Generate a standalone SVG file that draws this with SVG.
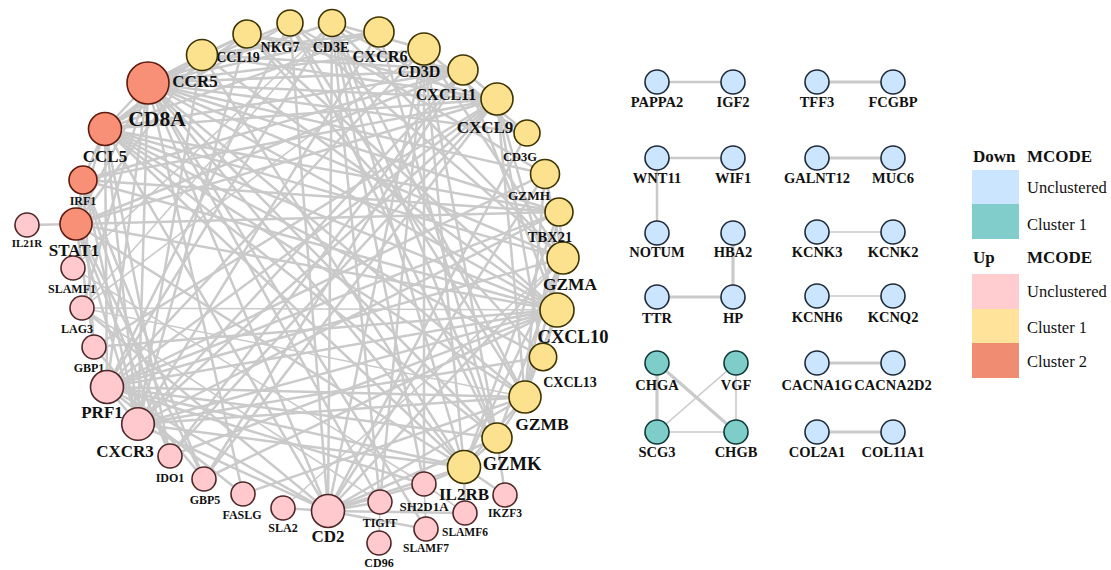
<svg xmlns="http://www.w3.org/2000/svg" width="1111" height="570" viewBox="0 0 1111 570">
<style>
text{font-family:"Liberation Serif","Times New Roman",serif;font-weight:bold;fill:#111;text-anchor:middle}
.e line{stroke:#CACACA;stroke-width:2.5;stroke-linecap:round}
.e line.t{stroke-width:1.6}
.e line.w{stroke-width:3.2}
.r{fill:#F88F77;stroke:#5E1B0E;stroke-width:1.6}
.y{fill:#FCE18F;stroke:#3D3300;stroke-width:1.6}
.p{fill:#FFC9CD;stroke:#4E2626;stroke-width:1.6}
.b{fill:#CCE5FF;stroke:#1E2A3A;stroke-width:1.6}
.c{fill:#7FCDC9;stroke:#0D3836;stroke-width:1.6}
.s{font-size:12px}
.m{font-size:14px}
.l{font-size:17px}
.q{font-size:14.5px}
.lg{font-weight:normal;text-anchor:start;font-size:16.5px}
.lh{text-anchor:start;font-size:17px}
</style>
<rect width="1111" height="570" fill="#fff"/>
<g id="connectors" class="e">
<line x1="148" y1="83" x2="202" y2="55"/><line x1="148" y1="83" x2="247" y2="34"/><line x1="148" y1="83" x2="290" y2="23"/><line x1="148" y1="83" x2="332" y2="23"/><line x1="148" y1="83" x2="379" y2="32"/><line x1="148" y1="83" x2="424" y2="49"/><line x1="148" y1="83" x2="497" y2="99"/><line x1="148" y1="83" x2="527" y2="133"/><line x1="148" y1="83" x2="545" y2="174"/><line x1="148" y1="83" x2="559" y2="212"/><line x1="148" y1="83" x2="563" y2="258"/><line x1="148" y1="83" x2="557" y2="310"/><line x1="148" y1="83" x2="525" y2="397"/><line x1="148" y1="83" x2="497" y2="438"/><line x1="148" y1="83" x2="464" y2="467"/><line x1="148" y1="83" x2="328" y2="511"/><line x1="148" y1="83" x2="107" y2="387"/><line x1="148" y1="83" x2="138" y2="424"/><line x1="148" y1="83" x2="76" y2="224"/><line x1="148" y1="83" x2="105" y2="129"/><line x1="148" y1="83" x2="82" y2="308"/><line x1="148" y1="83" x2="380" y2="502"/><line x1="148" y1="83" x2="426" y2="529"/><line x1="148" y1="83" x2="243" y2="494"/><line x1="148" y1="83" x2="463" y2="70"/>
<line x1="107" y1="387" x2="563" y2="258"/><line x1="107" y1="387" x2="525" y2="397"/><line x1="107" y1="387" x2="497" y2="438"/><line x1="107" y1="387" x2="545" y2="174"/><line x1="107" y1="387" x2="328" y2="511"/><line x1="107" y1="387" x2="290" y2="23"/><line x1="107" y1="387" x2="243" y2="494"/><line x1="107" y1="387" x2="332" y2="23"/><line x1="107" y1="387" x2="424" y2="49"/><line x1="107" y1="387" x2="464" y2="467"/><line x1="107" y1="387" x2="559" y2="212"/><line x1="107" y1="387" x2="105" y2="129"/><line x1="107" y1="387" x2="557" y2="310"/><line x1="107" y1="387" x2="497" y2="99"/><line x1="107" y1="387" x2="424" y2="484"/><line x1="107" y1="387" x2="138" y2="424"/>
<line x1="138" y1="424" x2="497" y2="99"/><line x1="138" y1="424" x2="557" y2="310"/><line x1="138" y1="424" x2="463" y2="70"/><line x1="138" y1="424" x2="543" y2="357"/><line x1="138" y1="424" x2="202" y2="55"/><line x1="138" y1="424" x2="105" y2="129"/><line x1="138" y1="424" x2="76" y2="224"/><line x1="138" y1="424" x2="328" y2="511"/><line x1="138" y1="424" x2="464" y2="467"/><line x1="138" y1="424" x2="559" y2="212"/><line x1="138" y1="424" x2="247" y2="34"/><line x1="138" y1="424" x2="379" y2="32"/><line x1="138" y1="424" x2="525" y2="397"/><line x1="138" y1="424" x2="83" y2="180"/>
<line x1="328" y1="511" x2="332" y2="23"/><line x1="328" y1="511" x2="424" y2="49"/><line x1="328" y1="511" x2="527" y2="133"/><line x1="328" y1="511" x2="563" y2="258"/><line x1="328" y1="511" x2="525" y2="397"/><line x1="328" y1="511" x2="497" y2="438"/><line x1="328" y1="511" x2="464" y2="467"/><line x1="328" y1="511" x2="424" y2="484"/><line x1="328" y1="511" x2="465" y2="513"/><line x1="328" y1="511" x2="426" y2="529"/><line x1="328" y1="511" x2="105" y2="129"/><line x1="328" y1="511" x2="290" y2="23"/><line x1="328" y1="511" x2="82" y2="308"/><line x1="328" y1="511" x2="380" y2="502"/><line x1="328" y1="511" x2="283" y2="508"/>
<line x1="105" y1="129" x2="202" y2="55"/><line x1="105" y1="129" x2="497" y2="99"/><line x1="105" y1="129" x2="557" y2="310"/><line x1="105" y1="129" x2="463" y2="70"/><line x1="105" y1="129" x2="247" y2="34"/><line x1="105" y1="129" x2="379" y2="32"/><line x1="105" y1="129" x2="563" y2="258"/><line x1="105" y1="129" x2="525" y2="397"/><line x1="105" y1="129" x2="497" y2="438"/><line x1="105" y1="129" x2="290" y2="23"/><line x1="105" y1="129" x2="76" y2="224"/><line x1="105" y1="129" x2="464" y2="467"/><line x1="105" y1="129" x2="170" y2="456"/><line x1="105" y1="129" x2="543" y2="357"/><line x1="105" y1="129" x2="83" y2="180"/>
<line x1="76" y1="224" x2="83" y2="180"/><line x1="76" y1="224" x2="27" y2="225"/><line x1="76" y1="224" x2="497" y2="99"/><line x1="76" y1="224" x2="557" y2="310"/><line x1="76" y1="224" x2="463" y2="70"/><line x1="76" y1="224" x2="170" y2="456"/><line x1="76" y1="224" x2="94" y2="347"/><line x1="76" y1="224" x2="204" y2="479"/><line x1="76" y1="224" x2="464" y2="467"/><line x1="76" y1="224" x2="559" y2="212"/><line x1="76" y1="224" x2="202" y2="55"/>
<line x1="563" y1="258" x2="525" y2="397"/><line x1="563" y1="258" x2="497" y2="438"/><line x1="563" y1="258" x2="545" y2="174"/><line x1="563" y1="258" x2="290" y2="23"/><line x1="563" y1="258" x2="464" y2="467"/><line x1="563" y1="258" x2="332" y2="23"/><line x1="563" y1="258" x2="424" y2="49"/><line x1="563" y1="258" x2="559" y2="212"/><line class="t" x1="563" y1="258" x2="283" y2="508"/>
<line x1="525" y1="397" x2="497" y2="438"/><line x1="525" y1="397" x2="545" y2="174"/><line x1="525" y1="397" x2="290" y2="23"/><line x1="525" y1="397" x2="464" y2="467"/><line x1="525" y1="397" x2="243" y2="494"/><line x1="525" y1="397" x2="332" y2="23"/><line x1="525" y1="397" x2="559" y2="212"/><line class="t" x1="525" y1="397" x2="82" y2="308"/><line x1="525" y1="397" x2="557" y2="310"/>
<line x1="497" y1="438" x2="505" y2="495"/><line x1="497" y1="438" x2="424" y2="49"/><line x1="497" y1="438" x2="332" y2="23"/><line x1="497" y1="438" x2="290" y2="23"/><line x1="497" y1="438" x2="379" y2="32"/><line x1="497" y1="438" x2="464" y2="467"/>
<line x1="557" y1="310" x2="497" y2="99"/><line x1="557" y1="310" x2="463" y2="70"/><line x1="557" y1="310" x2="170" y2="456"/><line x1="557" y1="310" x2="94" y2="347"/><line x1="557" y1="310" x2="204" y2="479"/><line x1="557" y1="310" x2="543" y2="357"/><line x1="557" y1="310" x2="247" y2="34"/><line x1="557" y1="310" x2="202" y2="55"/><line x1="557" y1="310" x2="83" y2="180"/><line class="t" x1="557" y1="310" x2="82" y2="308"/>
<line x1="497" y1="99" x2="463" y2="70"/><line x1="497" y1="99" x2="170" y2="456"/><line x1="497" y1="99" x2="94" y2="347"/><line x1="497" y1="99" x2="204" y2="479"/><line x1="497" y1="99" x2="247" y2="34"/><line x1="497" y1="99" x2="202" y2="55"/><line x1="497" y1="99" x2="83" y2="180"/><line x1="497" y1="99" x2="543" y2="357"/><line x1="497" y1="99" x2="525" y2="397"/>
<line x1="463" y1="70" x2="170" y2="456"/><line x1="463" y1="70" x2="202" y2="55"/><line x1="463" y1="70" x2="247" y2="34"/><line x1="463" y1="70" x2="83" y2="180"/><line x1="463" y1="70" x2="204" y2="479"/>
<line x1="424" y1="49" x2="332" y2="23"/><line x1="424" y1="49" x2="527" y2="133"/><line x1="424" y1="49" x2="464" y2="467"/><line class="t" x1="424" y1="49" x2="82" y2="308"/><line x1="424" y1="49" x2="380" y2="502"/><line x1="424" y1="49" x2="424" y2="484"/>
<line x1="332" y1="23" x2="527" y2="133"/><line x1="332" y1="23" x2="464" y2="467"/><line x1="332" y1="23" x2="424" y2="484"/><line x1="332" y1="23" x2="380" y2="502"/><line class="t" x1="332" y1="23" x2="82" y2="308"/><line class="t" x1="332" y1="23" x2="73" y2="268"/>
<line x1="202" y1="55" x2="247" y2="34"/><line x1="202" y1="55" x2="379" y2="32"/><line x1="202" y1="55" x2="464" y2="467"/><line x1="247" y1="34" x2="543" y2="357"/><line x1="290" y1="23" x2="545" y2="174"/>
<line x1="464" y1="467" x2="505" y2="495"/><line x1="464" y1="467" x2="465" y2="513"/><line x1="464" y1="467" x2="559" y2="212"/><line x1="464" y1="467" x2="424" y2="484"/><line x1="559" y1="212" x2="83" y2="180"/><line x1="559" y1="212" x2="105" y2="129"/><line x1="545" y1="174" x2="328" y2="511"/>
<line x1="83" y1="180" x2="170" y2="456"/><line x1="83" y1="180" x2="94" y2="347"/><line x1="83" y1="180" x2="204" y2="479"/><line x1="94" y1="347" x2="204" y2="479"/>
<line class="t" x1="380" y1="502" x2="379" y2="543"/><line class="t" x1="424" y1="484" x2="426" y2="529"/><line class="t" x1="424" y1="484" x2="465" y2="513"/><line class="t" x1="73" y1="268" x2="424" y2="484"/><line class="t" x1="82" y1="308" x2="380" y2="502"/>
<line x1="657" y1="82" x2="733" y2="82"/><line class="w" x1="817" y1="82" x2="893" y2="82"/><line x1="657" y1="158" x2="733" y2="158"/><line x1="657" y1="158" x2="657" y2="233"/><line class="w" x1="817" y1="158" x2="893" y2="158"/><line class="w" x1="733" y1="233" x2="733" y2="297"/><line class="t" x1="817" y1="232" x2="893" y2="232"/><line class="w" x1="657" y1="297" x2="733" y2="297"/><line class="t" x1="817" y1="296" x2="893" y2="296"/>
<line class="w" x1="657" y1="363" x2="657" y2="432"/><line class="w" x1="657" y1="363" x2="736" y2="432"/><line class="t" x1="736" y1="363" x2="657" y2="432"/><line class="t" x1="736" y1="363" x2="736" y2="432"/><line class="t" x1="657" y1="432" x2="736" y2="432"/><line class="w" x1="817" y1="363" x2="893" y2="363"/><line class="w" x1="817" y1="432" x2="893" y2="432"/>
</g>
<g id="n-CD8A"><circle class="r" cx="148" cy="83" r="21"/><text x="157" y="126" style="font-size:21.5px">CD8A</text></g>
<g id="n-CCL5"><circle class="r" cx="105" cy="129" r="16.5"/><text class="l" x="105" y="162">CCL5</text></g>
<g id="n-IRF1"><circle class="r" cx="83" cy="180" r="14"/><text class="s" x="83" y="205">IRF1</text></g>
<g id="n-STAT1"><circle class="r" cx="76" cy="224" r="16"/><text class="l" x="74" y="256">STAT1</text></g>
<g id="n-IL21R"><circle class="p" cx="27" cy="225" r="12"/><text class="s" x="27" y="247" style="font-size:11px">IL21R</text></g>
<g id="n-SLAMF1"><circle class="p" cx="73" cy="268" r="12"/><text class="s" x="72" y="293">SLAMF1</text></g>
<g id="n-LAG3"><circle class="p" cx="82" cy="308" r="12"/><text class="s" x="77" y="333">LAG3</text></g>
<g id="n-GBP1"><circle class="p" cx="94" cy="347" r="12"/><text class="s" x="89" y="372">GBP1</text></g>
<g id="n-PRF1"><circle class="p" cx="107" cy="387" r="16.5"/><text class="l" x="102" y="418">PRF1</text></g>
<g id="n-CXCR3"><circle class="p" cx="138" cy="424" r="16.3"/><text class="l" x="125" y="457">CXCR3</text></g>
<g id="n-IDO1"><circle class="p" cx="170" cy="456" r="12"/><text class="s" x="170" y="482">IDO1</text></g>
<g id="n-GBP5"><circle class="p" cx="204" cy="479" r="12"/><text class="s" x="205" y="504">GBP5</text></g>
<g id="n-FASLG"><circle class="p" cx="243" cy="494" r="12"/><text class="s" x="242" y="519">FASLG</text></g>
<g id="n-SLA2"><circle class="p" cx="283" cy="508" r="12"/><text class="s" x="283" y="532">SLA2</text></g>
<g id="n-CD2"><circle class="p" cx="328" cy="511" r="16.5"/><text class="l" x="328" y="542">CD2</text></g>
<g id="n-TIGIT"><circle class="p" cx="380" cy="502" r="12"/><text class="s" x="380" y="527">TIGIT</text></g>
<g id="n-CD96"><circle class="p" cx="379" cy="543" r="12"/><text class="s" x="379" y="567">CD96</text></g>
<g id="n-SH2D1A"><circle class="p" cx="424" cy="484" r="12"/><text class="s" x="424" y="511" style="font-size:13px">SH2D1A</text></g>
<g id="n-SLAMF7"><circle class="p" cx="426" cy="529" r="12"/><text class="s" x="426" y="552" style="font-size:11.5px">SLAMF7</text></g>
<g id="n-SLAMF6"><circle class="p" cx="465" cy="513" r="12"/><text class="s" x="465" y="536" style="font-size:11.5px">SLAMF6</text></g>
<g id="n-IKZF3"><circle class="p" cx="505" cy="495" r="12"/><text class="s" x="505" y="517" style="font-size:11.5px">IKZF3</text></g>
<g id="n-IL2RB"><circle class="y" cx="464" cy="467" r="16.5"/><text class="l" x="464" y="500">IL2RB</text></g>
<g id="n-GZMK"><circle class="y" cx="497" cy="438" r="15"/><text x="512" y="470" style="font-size:18.5px">GZMK</text></g>
<g id="n-GZMB"><circle class="y" cx="525" cy="397" r="16"/><text x="542" y="430" style="font-size:17.5px">GZMB</text></g>
<g id="n-CXCL13"><circle class="y" cx="543" cy="357" r="13.7"/><text class="m" x="570" y="387">CXCL13</text></g>
<g id="n-CXCL10"><circle class="y" cx="557" cy="310" r="17"/><text x="573" y="343" style="font-size:18.5px">CXCL10</text></g>
<g id="n-GZMA"><circle class="y" cx="563" cy="258" r="16"/><text class="l" x="570" y="290" style="font-size:17.4px">GZMA</text></g>
<g id="n-TBX21"><circle class="y" cx="559" cy="212" r="14"/><text x="550" y="242" style="font-size:14.5px">TBX21</text></g>
<g id="n-GZMH"><circle class="y" cx="545" cy="174" r="14.5"/><text x="529" y="200" style="font-size:13.3px">GZMH</text></g>
<g id="n-CD3G"><circle class="y" cx="527" cy="133" r="13"/><text x="520" y="161" style="font-size:12.5px">CD3G</text></g>
<g id="n-CXCL9"><circle class="y" cx="497" cy="99" r="16"/><text class="l" x="485" y="133">CXCL9</text></g>
<g id="n-CXCL11"><circle class="y" cx="463" cy="70" r="15"/><text x="446" y="100" style="font-size:16px">CXCL11</text></g>
<g id="n-CD3D"><circle class="y" cx="424" cy="49" r="16"/><text x="419" y="77" style="font-size:16px">CD3D</text></g>
<g id="n-CXCR6"><circle class="y" cx="379" cy="32" r="15"/><text x="380" y="62" style="font-size:16.3px">CXCR6</text></g>
<g id="n-CD3E"><circle class="y" cx="332" cy="23" r="13.5"/><text class="m" x="331" y="52">CD3E</text></g>
<g id="n-NKG7"><circle class="y" cx="290" cy="23" r="13"/><text class="m" x="280" y="52">NKG7</text></g>
<g id="n-CCL19"><circle class="y" cx="247" cy="34" r="14"/><text class="m" x="238" y="62">CCL19</text></g>
<g id="n-CCR5"><circle class="y" cx="202" cy="55" r="15.5"/><text class="l" x="195" y="87">CCR5</text></g>
<g id="n-PAPPA2"><circle class="b" cx="657" cy="82" r="12"/><text class="q" x="657" y="107">PAPPA2</text></g>
<g id="n-IGF2"><circle class="b" cx="733" cy="82" r="12"/><text class="q" x="733" y="107">IGF2</text></g>
<g id="n-TFF3"><circle class="b" cx="817" cy="82" r="12"/><text class="q" x="817" y="107">TFF3</text></g>
<g id="n-FCGBP"><circle class="b" cx="893" cy="82" r="12"/><text class="q" x="893" y="107">FCGBP</text></g>
<g id="n-WNT11"><circle class="b" cx="657" cy="158" r="12"/><text class="q" x="657" y="183">WNT11</text></g>
<g id="n-WIF1"><circle class="b" cx="733" cy="158" r="12"/><text class="q" x="733" y="183">WIF1</text></g>
<g id="n-GALNT12"><circle class="b" cx="817" cy="158" r="12"/><text class="q" x="817" y="183">GALNT12</text></g>
<g id="n-MUC6"><circle class="b" cx="893" cy="158" r="12"/><text class="q" x="893" y="183">MUC6</text></g>
<g id="n-NOTUM"><circle class="b" cx="657" cy="233" r="12"/><text class="q" x="657" y="257">NOTUM</text></g>
<g id="n-HBA2"><circle class="b" cx="733" cy="233" r="12"/><text class="q" x="733" y="257">HBA2</text></g>
<g id="n-KCNK3"><circle class="b" cx="817" cy="232" r="12"/><text class="q" x="817" y="257">KCNK3</text></g>
<g id="n-KCNK2"><circle class="b" cx="893" cy="232" r="12"/><text class="q" x="893" y="257">KCNK2</text></g>
<g id="n-TTR"><circle class="b" cx="657" cy="297" r="12"/><text class="q" x="657" y="323">TTR</text></g>
<g id="n-HP"><circle class="b" cx="733" cy="297" r="12"/><text class="q" x="733" y="323">HP</text></g>
<g id="n-KCNH6"><circle class="b" cx="817" cy="296" r="12"/><text class="q" x="817" y="322">KCNH6</text></g>
<g id="n-KCNQ2"><circle class="b" cx="893" cy="296" r="12"/><text class="q" x="893" y="322">KCNQ2</text></g>
<g id="n-CHGA"><circle class="c" cx="657" cy="363" r="12"/><text class="q" x="657" y="390">CHGA</text></g>
<g id="n-VGF"><circle class="c" cx="736" cy="363" r="12"/><text class="q" x="736" y="390">VGF</text></g>
<g id="n-SCG3"><circle class="c" cx="657" cy="432" r="12"/><text class="q" x="657" y="457">SCG3</text></g>
<g id="n-CHGB"><circle class="c" cx="736" cy="432" r="12"/><text class="q" x="736" y="457">CHGB</text></g>
<g id="n-CACNA1G"><circle class="b" cx="817" cy="363" r="12"/><text class="q" x="817" y="390">CACNA1G</text></g>
<g id="n-CACNA2D2"><circle class="b" cx="893" cy="363" r="12"/><text class="q" x="893" y="390">CACNA2D2</text></g>
<g id="n-COL2A1"><circle class="b" cx="817" cy="432" r="12"/><text class="q" x="817" y="457">COL2A1</text></g>
<g id="n-COL11A1"><circle class="b" cx="893" cy="432" r="12"/><text class="q" x="893" y="457">COL11A1</text></g>
<g id="legend">
<text class="lh" x="973" y="162">Down</text><text class="lh" x="1027" y="162">MCODE</text>
<rect x="972" y="170" width="47" height="34" fill="#CCE5FF"/>
<rect x="972" y="204" width="47" height="35" fill="#80CDCB"/>
<text class="lg" x="1027" y="193">Unclustered</text>
<text class="lg" x="1027" y="230">Cluster 1</text>
<text class="lh" x="973" y="263">Up</text><text class="lh" x="1027" y="263">MCODE</text>
<rect x="972" y="274" width="47" height="35" fill="#FFCCCF"/>
<rect x="972" y="309" width="47" height="34" fill="#FFE39A"/>
<rect x="972" y="343" width="47" height="35" fill="#F08C72"/>
<text class="lg" x="1027" y="297">Unclustered</text>
<text class="lg" x="1027" y="333">Cluster 1</text>
<text class="lg" x="1027" y="367">Cluster 2</text>
</g>
</svg>
